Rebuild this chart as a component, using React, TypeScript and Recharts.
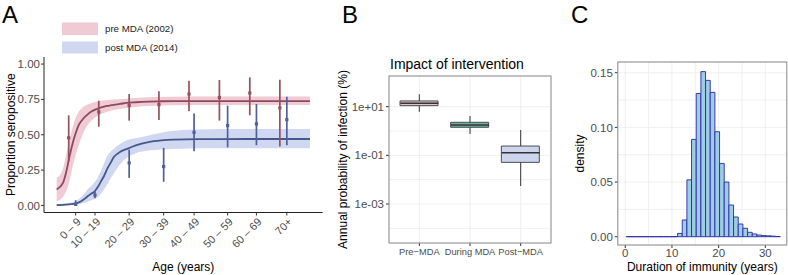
import React from 'react';
import {
  ComposedChart,
  Area,
  Line,
  Scatter,
  ErrorBar,
  XAxis,
  YAxis,
  CartesianGrid,
  Bar,
  Cell,
} from 'recharts';

const FONT = '"Liberation Sans", Arial, Helvetica, sans-serif';

// ---------------- Panel A: seroprevalence by age ----------------
const curveAges = [0, 2, 3, 4, 5, 6, 7, 8, 9, 10, 11, 12, 13, 14, 15, 16, 17, 18, 20, 22, 25, 29, 33, 37, 45, 60, 80];
const preFit = [0.113, 0.16, 0.235, 0.34, 0.435, 0.51, 0.57, 0.603, 0.628, 0.648, 0.664, 0.676, 0.685, 0.693, 0.699, 0.704, 0.708, 0.712, 0.718, 0.725, 0.73, 0.735, 0.737, 0.738, 0.738, 0.738, 0.738];
const preFitLo = [0.03, 0.06, 0.1, 0.17, 0.27, 0.36, 0.43, 0.49, 0.54, 0.575, 0.6, 0.62, 0.635, 0.645, 0.655, 0.663, 0.67, 0.675, 0.683, 0.69, 0.697, 0.703, 0.707, 0.709, 0.71, 0.71, 0.71];
const preFitHi = [0.195, 0.26, 0.36, 0.46, 0.55, 0.62, 0.665, 0.69, 0.705, 0.715, 0.725, 0.73, 0.735, 0.74, 0.742, 0.745, 0.747, 0.749, 0.752, 0.755, 0.76, 0.765, 0.767, 0.768, 0.77, 0.77, 0.77];
const postFit = [0.002, 0.004, 0.006, 0.008, 0.01, 0.014, 0.022, 0.033, 0.05, 0.068, 0.084, 0.1, 0.13, 0.17, 0.21, 0.26, 0.3, 0.34, 0.378, 0.398, 0.425, 0.448, 0.46, 0.466, 0.469, 0.47, 0.47];
const postFitLo = [0, 0, 0.001, 0.002, 0.003, 0.005, 0.008, 0.013, 0.02, 0.03, 0.037, 0.045, 0.06, 0.085, 0.115, 0.15, 0.19, 0.225, 0.29, 0.335, 0.37, 0.388, 0.396, 0.4, 0.404, 0.405, 0.405];
const postFitHi = [0.01, 0.012, 0.015, 0.018, 0.022, 0.03, 0.045, 0.065, 0.09, 0.12, 0.14, 0.165, 0.2, 0.245, 0.3, 0.35, 0.38, 0.4, 0.435, 0.46, 0.475, 0.495, 0.515, 0.528, 0.537, 0.54, 0.54];

const preAges = [3.8, 13.3, 22.9, 32.3, 41.8, 51.4, 61.0, 70.5];
const preObs = [0.478, 0.661, 0.708, 0.713, 0.788, 0.764, 0.795, 0.69];
const preObsLo = [0.313, 0.557, 0.6, 0.605, 0.666, 0.6, 0.637, 0.416];
const preObsHi = [0.637, 0.741, 0.788, 0.807, 0.882, 0.887, 0.906, 0.889];

const postAges = [6.0, 12.1, 22.9, 33.8, 43.4, 54.0, 63.1, 72.7];
const postObs = [0.007, 0.073, 0.301, 0.275, 0.517, 0.565, 0.577, 0.607];
const postObsLo = [0.0, 0.05, 0.195, 0.167, 0.383, 0.411, 0.426, 0.426];
const postObsHi = [0.037, 0.1, 0.395, 0.407, 0.651, 0.706, 0.718, 0.769];

const ageGroupLabels = ['0 \u2013 9', '10 \u2013 19', '20 \u2013 29', '30 \u2013 39', '40 \u2013 49', '50 \u2013 59', '60 \u2013 69', '70+'];
const propTicks = [0, 0.25, 0.5, 0.75, 1];

const PRE_LINE = '#8b4a5f';
const PRE_PT = '#94505f';
const PRE_BAND = '#f0cad4';
const POST_LINE = '#47578a';
const POST_PT = '#4f6098';
const POST_BAND = '#d0d7f0';

const curveRows = curveAges.map((age, i) => ({
  age,
  pre: preFit[i],
  preBand: [preFitLo[i], preFitHi[i]],
  post: postFit[i],
  postBand: [postFitLo[i], postFitHi[i]],
}));
const preRows = preAges.map((age, i) => ({ age, val: preObs[i], err: [preObs[i] - preObsLo[i], preObsHi[i] - preObs[i]] }));
const postRows = postAges.map((age, i) => ({ age, val: postObs[i], err: [postObs[i] - postObsLo[i], postObsHi[i] - postObs[i]] }));

// ---------------- Panel B: annual probability of infection ----------------
const periods = ['Pre\u2212MDA', 'During MDA', 'Post\u2212MDA'];
const whiskerLow = [6.2, 0.753, 0.00546];
const quartile1 = [11.0, 1.42, 0.0515];
const medians = [13.8, 1.77, 0.128];
const quartile3 = [17.2, 2.28, 0.241];
const whiskerHigh = [32.4, 4.14, 1.1];
const boxFills = ['#dcc2cc', '#67b29f', '#ccd4ee'];
const logBreaks = [1e-4, 1e-3, 1e-2, 1e-1, 1, 10];
const logMajor = [1e-3, 1e-1, 10];
const logMajorLabels = ['1e-03', '1e-01', '1e+01'];

const boxRows = periods.map((period, i) => ({
  period,
  box: [quartile1[i], quartile3[i]],
  q1: quartile1[i],
  q3: quartile3[i],
  med: medians[i],
  lowErr: [quartile1[i] - whiskerLow[i], 0],
  highErr: [0, whiskerHigh[i] - quartile3[i]],
}));

// ---------------- Panel C: duration of immunity ----------------
const binMids = [0.7, 1.7, 2.7, 3.7, 4.7, 5.7, 6.7, 7.7, 8.7, 9.7, 10.7, 11.7, 12.7, 13.7, 14.7, 15.7, 16.7, 17.7, 18.7, 19.7, 20.7, 21.7, 22.7, 23.7, 24.7, 25.7, 26.7, 27.7, 28.7, 29.7, 30.7, 31.7, 32.7];
const binDensity = [0, 0, 0, 0, 0, 0, 0, 0, 0, 0, 0, 0.003, 0.0153, 0.052, 0.089, 0.131, 0.151, 0.143, 0.132, 0.096, 0.067, 0.05, 0.029, 0.018, 0.0116, 0.0077, 0.004, 0.0025, 0.0015, 0.001, 0.0008, 0.0005, 0.0002];
const durTicks = [0, 5, 10, 15, 20, 25, 30];
const durMajor = [0, 10, 20, 30];
const densTicks = [0, 0.025, 0.05, 0.075, 0.1, 0.125, 0.15];
const densMajor = [0, 0.05, 0.1, 0.15];
const histRows = binMids.map((mid, i) => ({ mid, density: binDensity[i] }));

const TICK_COL = '#4d4d4d';
const GRID = '#ebebeb';

// ---------- tick renderers ----------
const AgeTick = (props: any) => {
  const { x, y, payload } = props;
  const i = postAges.indexOf(payload.value);
  const ax = x + 6;
  const ay = y + 5;
  return (
    <text x={ax} y={ay} transform={`rotate(-45 ${ax} ${ay})`} textAnchor="end" fontSize={11} fill={TICK_COL}>
      {i >= 0 ? ageGroupLabels[i] : ''}
    </text>
  );
};

const LogTick = (props: any) => {
  const { x, y, payload } = props;
  const i = logMajor.indexOf(payload.value);
  if (i < 0) return <g />;
  return (
    <g>
      <line x1={x + 2} x2={x + 5} y1={y} y2={y} stroke="#333" strokeWidth={1} />
      <text x={x} y={y} dy="0.36em" textAnchor="end" fontSize={11.5} fill={TICK_COL}>
        {logMajorLabels[i]}
      </text>
    </g>
  );
};

const PeriodTick = (props: any) => {
  const { x, y, payload } = props;
  return (
    <g>
      <line x1={x} x2={x} y1={y - 5} y2={y - 2} stroke="#333" strokeWidth={1} />
      <text x={x} y={y + 7} textAnchor="middle" fontSize={9.3} fill={TICK_COL}>
        {payload.value}
      </text>
    </g>
  );
};

const DurTick = (props: any) => {
  const { x, y, payload } = props;
  if (!durMajor.includes(payload.value)) return <g />;
  return (
    <g>
      <line x1={x} x2={x} y1={y - 5} y2={y - 2} stroke="#333" strokeWidth={1} />
      <text x={x} y={y + 7} textAnchor="middle" fontSize={11.5} fill={TICK_COL}>
        {String(payload.value)}
      </text>
    </g>
  );
};

const DensTick = (props: any) => {
  const { x, y, payload } = props;
  if (!densMajor.includes(payload.value)) return <g />;
  return (
    <g>
      <line x1={x + 2} x2={x + 5} y1={y} y2={y} stroke="#333" strokeWidth={1} />
      <text x={x} y={y} dy="0.36em" textAnchor="end" fontSize={11.5} fill={TICK_COL}>
        {Number(payload.value).toFixed(2)}
      </text>
    </g>
  );
};

const HistShape = (p: any) => {
  const { x, y, width, height } = p;
  if (x == null || y == null || width == null) return <g />;
  const h = Math.abs(height || 0);
  const top = (height || 0) < 0 ? y + height : y;
  return (
    <path
      d={`M${x},${top + h}V${top}H${x + width}V${top + h}Z`}
      fill="#9ccde3"
      stroke="#2a2aa6"
      strokeOpacity={0.9}
      strokeWidth={1}
    />
  );
};

const dot = (color: string) => (p: any) =>
  p.cx == null ? <g /> : <rect x={p.cx - 1.6} y={p.cy - 1.6} width={3.2} height={3.2} fill={color} />;

const noDot = () => <g />;

const MedianShape = (p: any) =>
  p.cx == null ? <g /> : <line x1={p.cx - 19} x2={p.cx + 19} y1={p.cy} y2={p.cy} stroke="#333" strokeWidth={1.6} />;

function PanelA() {
  return (
    <ComposedChart width={330} height={275} data={curveRows} margin={{ top: 57, right: 7.4, bottom: 0, left: 0 }}>
      <XAxis
        dataKey="age"
        type="number"
        domain={[-4, 84]}
        allowDataOverflow
        ticks={postAges}
        interval={0}
        tick={<AgeTick />}
        tickSize={3}
        height={62.5}
        axisLine={{ stroke: '#222', strokeWidth: 1 }}
        tickLine={{ stroke: '#333' }}
      />
      <YAxis
        type="number"
        domain={[-0.05, 1.05]}
        allowDataOverflow
        ticks={propTicks}
        interval={0}
        tickFormatter={(v: number) => v.toFixed(2)}
        width={44}
        tickSize={3}
        tickMargin={1}
        tick={{ fill: TICK_COL, fontSize: 11.5 }}
        axisLine={{ stroke: '#222', strokeWidth: 1 }}
        tickLine={{ stroke: '#333' }}
      />
      <Area dataKey="preBand" type="monotone" stroke="none" fill={PRE_BAND} fillOpacity={1} isAnimationActive={false} />
      <Area dataKey="postBand" type="monotone" stroke="none" fill={POST_BAND} fillOpacity={1} isAnimationActive={false} />
      <Line dataKey="pre" type="monotone" stroke={PRE_LINE} strokeWidth={1.8} dot={false} isAnimationActive={false} />
      <Line dataKey="post" type="monotone" stroke={POST_LINE} strokeWidth={1.8} dot={false} isAnimationActive={false} />
      <Scatter data={preRows} dataKey="val" shape={dot(PRE_PT)} isAnimationActive={false}>
        <ErrorBar dataKey="err" direction="y" width={0} stroke={PRE_PT} strokeWidth={1.7} />
      </Scatter>
      <Scatter data={postRows} dataKey="val" shape={dot(POST_PT)} isAnimationActive={false}>
        <ErrorBar dataKey="err" direction="y" width={0} stroke={POST_PT} strokeWidth={1.7} />
      </Scatter>
    </ComposedChart>
  );
}

function PanelB() {
  return (
    <ComposedChart width={230} height={275} data={boxRows} margin={{ top: 76, right: 9, bottom: 0, left: 0 }}>
      <CartesianGrid stroke={GRID} strokeWidth={0.8} />
      <XAxis
        dataKey="period"
        type="category"
        padding={{ left: 5, right: 5 }}
        tick={<PeriodTick />}
        tickSize={3}
        tickLine={false}
        axisLine={false}
        height={32}
        interval={0}
      />
      <YAxis
        type="number"
        scale="log"
        domain={[2.5e-5, 182]}
        allowDataOverflow
        ticks={logBreaks}
        interval={0}
        tick={<LogTick />}
        tickSize={3}
        tickMargin={2}
        tickLine={false}
        axisLine={false}
        width={59}
      />
      <Scatter dataKey="q1" shape={noDot} isAnimationActive={false}>
        <ErrorBar dataKey="lowErr" direction="y" width={0} stroke="#444" strokeWidth={1.1} />
      </Scatter>
      <Scatter dataKey="q3" shape={noDot} isAnimationActive={false}>
        <ErrorBar dataKey="highErr" direction="y" width={0} stroke="#444" strokeWidth={1.1} />
      </Scatter>
      <Bar dataKey="box" barSize={38} stroke="#4d4d4d" strokeWidth={1} isAnimationActive={false}>
        {boxRows.map((r, i) => (
          <Cell key={r.period} fill={boxFills[i]} />
        ))}
      </Bar>
      <Scatter dataKey="med" shape={MedianShape} isAnimationActive={false} />
    </ComposedChart>
  );
}

function PanelC() {
  const plotW = 169;
  const pxPerYear = plotW / (34.6 + 1.6);
  return (
    <ComposedChart width={228} height={275} data={histRows} margin={{ top: 62, right: 1.2, bottom: 0, left: 0 }}>
      <CartesianGrid stroke={GRID} strokeWidth={0.8} />
      <XAxis
        dataKey="mid"
        type="number"
        domain={[-1.6, 34.6]}
        allowDataOverflow
        ticks={durTicks}
        interval={0}
        tick={<DurTick />}
        tickSize={3}
        tickMargin={2}
        tickLine={false}
        axisLine={false}
        height={30}
      />
      <YAxis
        type="number"
        domain={[-0.0076, 0.1598]}
        allowDataOverflow
        ticks={densTicks}
        interval={0}
        tick={<DensTick />}
        tickSize={3}
        tickMargin={2}
        tickLine={false}
        axisLine={false}
        width={57.8}
      />
      <Bar dataKey="density" barSize={pxPerYear * 0.998} shape={HistShape} isAnimationActive={false} />
    </ComposedChart>
  );
}

export default function App() {
  return (
    <div style={{ position: 'absolute', left: 0, top: 0, width: 788, height: 275, background: '#fff', fontFamily: FONT, overflow: 'hidden' }}>
      <div style={{ position: 'absolute', left: 0, top: 0 }}>
        <PanelA />
      </div>
      <div style={{ position: 'absolute', left: 330, top: 0 }}>
        <PanelB />
      </div>
      <div style={{ position: 'absolute', left: 560, top: 0 }}>
        <PanelC />
      </div>
      <svg width={788} height={275} style={{ position: 'absolute', left: 0, top: 0, pointerEvents: 'none' }} fontFamily={FONT}>
        {/* panel letters */}
        <text x={2} y={23} fontSize={24} fill="#000">A</text>
        <text x={342} y={23} fontSize={24} fill="#000">B</text>
        <text x={571} y={23} fontSize={24} fill="#000">C</text>
        {/* legend for panel A */}
        <rect x={62} y={22.5} width={36} height={12.5} fill={PRE_BAND} />
        <rect x={62} y={41.5} width={36} height={12} fill={POST_BAND} />
        <text x={105} y={32.4} fontSize={9.7} fill="#222">pre MDA (2002)</text>
        <text x={105} y={50.9} fontSize={9.7} fill="#222">post MDA (2014)</text>
        {/* axis titles */}
        <text x={15} y={134.7} fontSize={12} textAnchor="middle" transform="rotate(-90 15 134.7)" fill="#000">Proportion seropositive</text>
        <text x={183.3} y={270.5} fontSize={12} textAnchor="middle" fill="#000">Age (years)</text>
        <text x={390} y={69} fontSize={14} fill="#000">Impact of intervention</text>
        <text x={347} y={159.5} fontSize={12} textAnchor="middle" transform="rotate(-90 347 159.5)" fill="#000">Annual probability of infection (%)</text>
        <text x={584} y={153.5} fontSize={12} textAnchor="middle" transform="rotate(-90 584 153.5)" fill="#000">density</text>
        <text x={702.3} y={270.5} fontSize={12} textAnchor="middle" fill="#000">Duration of immunity (years)</text>
        {/* panel borders */}
        <rect x={389} y={76} width={162} height={167} fill="none" stroke="#8c8c8c" strokeWidth={1} />
        <rect x={617.8} y={62} width={169} height={183} fill="none" stroke="#8c8c8c" strokeWidth={1} />
      </svg>
    </div>
  );
}
